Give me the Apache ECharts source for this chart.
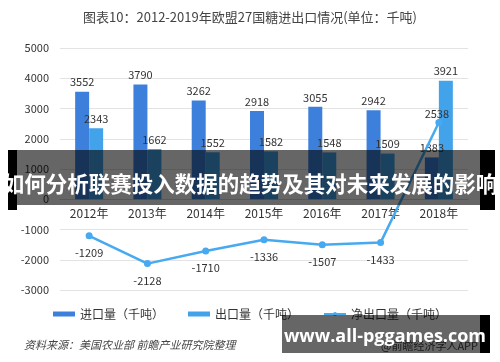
<!DOCTYPE html>
<html><head><meta charset="utf-8">
<script src="https://cdn.jsdelivr.net/npm/echarts@6/dist/echarts.min.js"></script>
<style>html,body{margin:0;padding:0;background:#fff}#c{width:500px;height:362px}</style>
</head><body><div id="c"></div>
<script>
const categories = ['2012年','2013年','2014年','2015年','2016年','2017年','2018年'];
const importVals = [3552, 3790, 3262, 2918, 3055, 2942, 1383];
const exportVals = [2343, 1662, 1552, 1582, 1548, 1509, 3921];
const netVals = [-1209, -2128, -1710, -1336, -1507, -1433, 2538];
const seriesNames = ['进口量（千吨）','出口量（千吨）','净出口量（千吨）'];
const titleText = '图表10：2012-2019年欧盟27国糖进出口情况(单位：千吨)';
const sourceText = '资料来源：美国农业部 前瞻产业研究院整理';
const appText = '@前瞻经济学人APP';
const bannerText = '如何分析联赛投入数据的趋势及其对未来发展的影响';
const siteText = 'www.all-pggames.com';

const FONT = '"Noto Sans CJK SC", "Noto Sans", sans-serif';
const chart = echarts.init(document.getElementById('c'), null, {renderer:'canvas'});
const lbl = {show:true, position:'top', distance:4, color:'#333', fontSize:11, fontFamily:FONT};
chart.setOption({
  animation:false,
  textStyle:{fontFamily:FONT},
  title:{text:titleText, left:'center', top:6, textStyle:{fontSize:13, fontWeight:'normal', color:'#444', fontFamily:FONT}},
  grid:{left:60, right:32, top:48, bottom:72},
  legend:{top:303, left:'center', itemWidth:22, itemHeight:5, itemGap:24,
    textStyle:{fontSize:12, color:'#333', fontFamily:FONT},
    data:[{name:seriesNames[0], icon:'rect'},{name:seriesNames[1], icon:'rect'},{name:seriesNames[2]}]},
  xAxis:{type:'category', data:categories, offset:-91,
    axisLine:{show:true, onZero:false, lineStyle:{color:'#d9d9d9'}},
    axisTick:{show:false},
    axisLabel:{color:'#333', fontSize:12, margin:8, fontFamily:FONT}},
  yAxis:{type:'value', min:-3000, max:5000, interval:1000,
    axisLine:{show:false}, axisTick:{show:false},
    splitLine:{lineStyle:{color:'#e3e3e3'}},
    axisLabel:{color:'#333', fontSize:11, margin:11, fontFamily:FONT, formatter:function(v){return String(v);}}},
  series:[
    {name:seriesNames[0], type:'bar', data:importVals, barWidth:14, barGap:'0%',
      itemStyle:{color:'#3d80dc'}, label:lbl},
    {name:seriesNames[1], type:'bar', data:exportVals, barWidth:14,
      itemStyle:{color:'#42a2ea'}, label:lbl},
    {name:seriesNames[2], type:'line', data:netVals, symbol:'circle', symbolSize:7,
      lineStyle:{width:2.5, color:'#47a9f0'}, itemStyle:{color:'#47a9f0'},
      label:{show:true, color:'#333', fontSize:11, fontFamily:FONT, distance:8,
        position:'bottom'},
      labelLayout:function(p){ return p.dataIndex===6 ? {dy:-26, dx:-2} : {}; },
      z:5}
  ],
  graphic:[
    {type:'text', left:24, top:339, style:{text:sourceText, fill:'#444', font:'italic 11px '+FONT}},
    {type:'text', right:22, top:340, style:{text:appText, fill:'#444', font:'11px '+FONT}},
    {type:'rect', shape:{x:8, y:150, width:9, height:60}, style:{fill:'#000'}, z:100},
    {type:'rect', shape:{x:480, y:150, width:15, height:60}, style:{fill:'#000'}, z:100},
    {type:'rect', shape:{x:17, y:150, width:463, height:55}, style:{fill:'rgba(0,0,0,0.6)'}, z:101},
    {type:'text', x:250, y:184, style:{text:bannerText, fill:'#fff', font:'bold 21.5px '+FONT, align:'center', verticalAlign:'middle'}, z:102},
    {type:'rect', shape:{x:480, y:315, width:10, height:38}, style:{fill:'#000'}, z:100},
    {type:'rect', shape:{x:282, y:315, width:198, height:38}, style:{fill:'rgba(0,0,0,0.6)'}, z:101},
    {type:'text', x:385, y:337, style:{text:siteText, fill:'#fff', font:'bold 18px "Open Sans", "DejaVu Sans", sans-serif', align:'center', verticalAlign:'middle'}, z:102}
  ]
});
</script></body></html>
